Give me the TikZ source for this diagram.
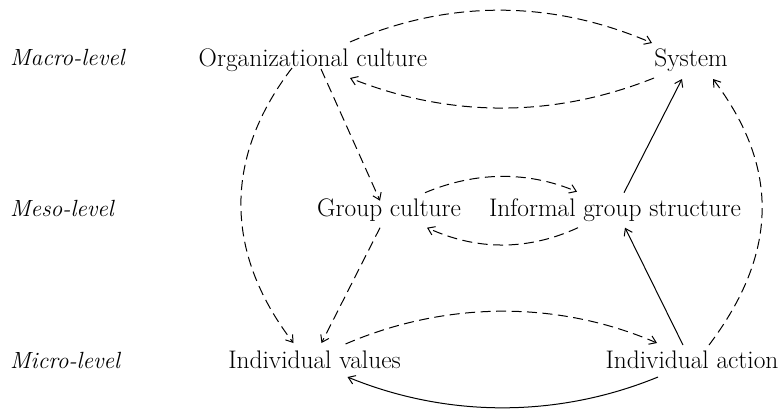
\documentclass[tikz,border=0pt]{standalone}
\usetikzlibrary{arrows.meta}
\begin{document}
\begin{tikzpicture}[x=1bp,y=-1bp,
  lbl/.style={inner sep=0pt,anchor=base,font=\fontsize{25.5}{30}\selectfont},
  lvl/.style={inner sep=0pt,anchor=base west,font=\fontsize{23.5}{28}\selectfont\itshape},
  dsh/.style={dash pattern=on 10bp off 5.5bp},
  arr/.style={-{Straight Barb[length=6.5bp,width=9bp]}, line width=1bp}]
\useasboundingbox (0,0) rectangle (783,411);
\node[lvl] (macro) at (10,65.7) {Macro-level};
\node[lbl] (org) at (313,66) {Organizational culture};
\node[lbl] (sys) at (691,66) {System};
\node[lvl] (meso) at (10,216.7) {Meso-level};
\node[lbl] (gc) at (389,216.7) {Group culture};
\node[lbl] (inf) at (615,216.7) {Informal group structure};
\node[lvl] (micro) at (10,368) {Micro-level};
\node[lbl] (vals) at (314.5,368) {Individual values};
\node[lbl] (act) at (692,368) {Individual action};
% top
\draw[arr,dsh] ([shift={(37,-24)}]org.base) .. controls +(100,-43) and +(-100,-43) .. ([shift={(-39,-23)}]sys.base);
\draw[arr,dsh] ([shift={(-37,12)}]sys.base) .. controls +(-100,40) and +(100,40) .. ([shift={(37,12)}]org.base);
% org down
\draw[arr,dsh] ([shift={(8,3)}]org.base) -- ([shift={(-9,-16)}]gc.base);
\draw[arr,dsh] ([shift={(-21,2)}]org.base) .. controls +(-69,90) and +(-69,-90) .. ([shift={(-21,-25)}]vals.base);
\draw[arr,dsh] ([shift={(-9,11)}]gc.base) -- ([shift={(7,-25)}]vals.base);
% middle
\draw[arr,dsh] ([shift={(36,-24)}]gc.base) .. controls +(50,-21) and +(-50,-21) .. ([shift={(-38,-25)}]inf.base);
\draw[arr,dsh] ([shift={(-37,11)}]inf.base) .. controls +(-50,23) and +(50,23) .. ([shift={(38,11)}]gc.base);
% right
\draw[arr] ([shift={(9,-24)}]inf.base) -- ([shift={(-9,13)}]sys.base);
\draw[arr] ([shift={(-9,-23)}]act.base) -- ([shift={(10,11)}]inf.base);
\draw[arr,dsh] ([shift={(17,-23)}]act.base) .. controls +(68,-90) and +(68,90) .. ([shift={(22,13)}]sys.base);
% bottom
\draw[arr,dsh] ([shift={(31,-24)}]vals.base) .. controls +(100,-43) and +(-100,-43) .. ([shift={(-35,-25)}]act.base);
\draw[arr] ([shift={(-34,9)}]act.base) .. controls +(-100,41) and +(100,41) .. ([shift={(33,9)}]vals.base);
\end{tikzpicture}
\end{document}
